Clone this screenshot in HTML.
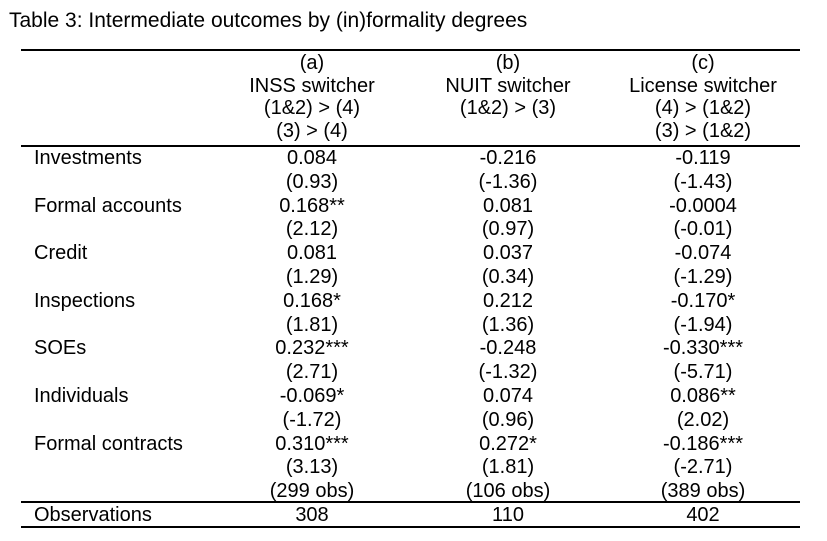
<!DOCTYPE html>
<html><head><meta charset="utf-8"><style>
body{margin:0;width:827px;height:541px;background:#fff;position:relative;font-family:"Liberation Sans",Arial,sans-serif;font-size:20px;color:#000;overflow:hidden}
.t{position:absolute;white-space:nowrap;line-height:22px}
.c{transform:translateX(-50%)}
.l{position:absolute;left:21px;width:779px;height:1.5px;background:#000}
</style></head><body>
<div class="t" style="left:9px;top:10px;font-size:21px">Table 3: Intermediate outcomes by (in)formality degrees</div>
<div class="l" style="top:49px"></div>
<div class="l" style="top:145px"></div>
<div class="l" style="top:501px"></div>
<div class="l" style="top:526px"></div>
<div id="h"></div>
<script>
const cx=[312,508,703];
const hdr=[["(a)","INSS switcher","(1&2) > (4)","(3) > (4)"],["(b)","NUIT switcher","(1&2) > (3)",""],["(c)","License switcher","(4) > (1&2)","(3) > (1&2)"]];
let s="";
hdr.forEach((col,i)=>col.forEach((t,j)=>{if(t)s+=`<div class="t c" style="left:${cx[i]}px;top:${52+j*22.7}px">${t}</div>`;}));
const rows=[["Investments","0.084","-0.216","-0.119"],["","(0.93)","(-1.36)","(-1.43)"],["Formal accounts","0.168**","0.081","-0.0004"],["","(2.12)","(0.97)","(-0.01)"],["Credit","0.081","0.037","-0.074"],["","(1.29)","(0.34)","(-1.29)"],["Inspections","0.168*","0.212","-0.170*"],["","(1.81)","(1.36)","(-1.94)"],["SOEs","0.232***","-0.248","-0.330***"],["","(2.71)","(-1.32)","(-5.71)"],["Individuals","-0.069*","0.074","0.086**"],["","(-1.72)","(0.96)","(2.02)"],["Formal contracts","0.310***","0.272*","-0.186***"],["","(3.13)","(1.81)","(-2.71)"],["","(299 obs)","(106 obs)","(389 obs)"]];
rows.forEach((r,k)=>{const y=147+k*23.8;if(r[0])s+=`<div class="t" style="left:34px;top:${y}px">${r[0]}</div>`;for(let i=0;i<3;i++)s+=`<div class="t c" style="left:${cx[i]}px;top:${y}px">${r[i+1]}</div>`;});
s+=`<div class="t" style="left:34px;top:504px">Observations</div>`;
["308","110","402"].forEach((t,i)=>s+=`<div class="t c" style="left:${cx[i]}px;top:504px">${t}</div>`);
document.getElementById("h").innerHTML=s;
</script>
</body></html>
